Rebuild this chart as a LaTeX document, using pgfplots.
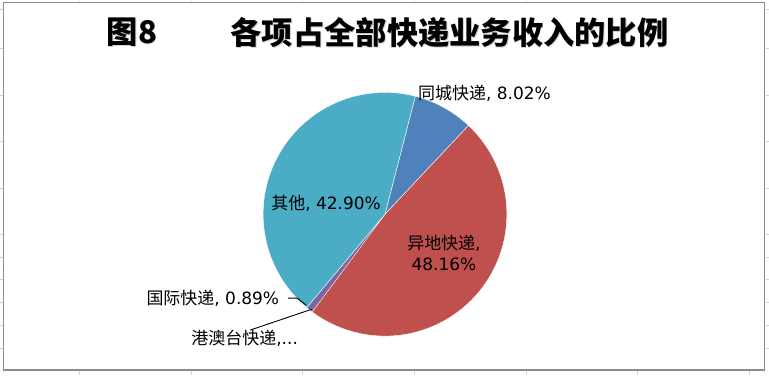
\documentclass[border=0pt]{standalone}
\usepackage{fontspec}
\setmainfont{DejaVu Sans}
\newfontfamily\cjk{Noto Sans CJK SC}
\usepackage{pgfplots}
\pgfplotsset{compat=1.18}
\definecolor{cTong}{HTML}{4F81BD}
\definecolor{cYi}{HTML}{C0504D}
\definecolor{cGang}{HTML}{9BBB59}
\definecolor{cGuo}{HTML}{8064A2}
\definecolor{cQi}{HTML}{4BACC6}
\definecolor{frameclr}{HTML}{8C8C8C}
\definecolor{sheetgrid}{HTML}{D4D4D4}
% shares in percent, clockwise from the first slice
\def\pTong{8.02}\def\pYi{48.16}\def\pGang{0.03}\def\pGuo{0.89}\def\pQi{42.90}
\def\startang{75.6}
\pgfmathsetmacro\aA{\startang}
\pgfmathsetmacro\aB{\aA-3.6*\pTong}
\pgfmathsetmacro\aC{\aB-3.6*\pYi}
\pgfmathsetmacro\aD{\aC-3.6*\pGang}
\pgfmathsetmacro\aE{\aD-3.6*\pGuo}
\pgfmathsetmacro\aF{\aE-3.6*\pQi}
\def\cx{385}\def\cy{214}\def\rr{122}
\begin{document}
\begin{tikzpicture}
\begin{axis}[
  width=769pt, height=375pt, scale only axis,
  xmin=0, xmax=769, ymin=0, ymax=375, y dir=reverse,
  hide axis, clip=false, anchor=origin, at={(0,0)}]
% background and sheet grid stubs
\addplot[draw=none, fill=white] coordinates {(0,0) (769,0) (769,375) (0,375)} -- cycle;
\foreach \gx in {79,191,302,415,527,638,750}{
  \edef\tmp{\noexpand\addplot[color=sheetgrid, line width=1pt] coordinates {(\gx,0) (\gx,2)};
  \noexpand\addplot[color=sheetgrid, line width=1pt] coordinates {(\gx,371) (\gx,375)};}\tmp}
\foreach \gy in {9,48,95,141,188,234,257,279,302,325,348}{
  \edef\tmp{\noexpand\addplot[color=sheetgrid, line width=1pt] coordinates {(0,\gy) (2.5,\gy)};
  \noexpand\addplot[color=sheetgrid, line width=1pt] coordinates {(766,\gy) (769,\gy)};}\tmp}
\addplot[color=frameclr, line width=1.5pt] coordinates {(3,2) (765,2) (765,370) (3,370)} -- cycle;
% pie slices
\addplot[fill=cTong, draw=white, line width=0.4pt, domain=\aB:\aA, samples=40]
  ({\cx+\rr*cos(x)},{\cy-\rr*sin(x)}) -- (\cx,\cy) -- cycle;
\addplot[fill=cYi, draw=white, line width=0.4pt, domain=\aC:\aB, samples=120]
  ({\cx+\rr*cos(x)},{\cy-\rr*sin(x)}) -- (\cx,\cy) -- cycle;
\addplot[fill=cGang, draw=none, domain=\aD:\aC, samples=2]
  ({\cx+\rr*cos(x)},{\cy-\rr*sin(x)}) -- (\cx,\cy) -- cycle;
\addplot[fill=cGuo, draw=white, line width=0.2pt, domain=\aE:\aD, samples=5]
  ({\cx+\rr*cos(x)},{\cy-\rr*sin(x)}) -- (\cx,\cy) -- cycle;
\addplot[fill=cQi, draw=white, line width=0.4pt, domain=\aF:\aE, samples=120]
  ({\cx+\rr*cos(x)},{\cy-\rr*sin(x)}) -- (\cx,\cy) -- cycle;
% leader lines
\addplot[color=black, line width=0.9pt] coordinates {(288,298) (297,298) (306,305)};
\addplot[color=black, line width=0.9pt] coordinates {(250,330) (312,309)};
% title
\node[anchor=west, text=black!18, font=\cjk\bfseries\fontsize{31.3}{32}\selectfont] at (axis cs:103.8,32.8) {图8};
\node[anchor=west, text=black!18, font=\cjk\bfseries\fontsize{31.3}{32}\selectfont] at (axis cs:227.8,32.8) {各项占全部快递业务收入的比例};
\node[anchor=west, font=\cjk\bfseries\fontsize{31.3}{32}\selectfont] at (axis cs:103,32) {图8};
\node[anchor=west, font=\cjk\bfseries\fontsize{31.3}{32}\selectfont] at (axis cs:227,32) {各项占全部快递业务收入的比例};
% labels
\node[anchor=west, inner sep=0pt, font=\fontsize{17}{17}\selectfont] at (axis cs:418,93) {{\cjk 同城快递}, 8.02\%};
\node[anchor=west, inner sep=0pt, font=\fontsize{17}{17}\selectfont] at (axis cs:271,203) {{\cjk 其他}, 42.90\%};
\node[align=center, inner sep=0pt, font=\fontsize{17}{21}\selectfont] at (axis cs:444,253) {{\cjk 异地快递},\\48.16\%};
\node[anchor=west, inner sep=0pt, font=\fontsize{17}{17}\selectfont] at (axis cs:146,298) {{\cjk 国际快递}, 0.89\%};
\node[anchor=west, inner sep=0pt, font=\fontsize{17}{17}\selectfont] at (axis cs:191,338) {{\cjk 港澳台快递},...};
\end{axis}
\end{tikzpicture}
\end{document}
